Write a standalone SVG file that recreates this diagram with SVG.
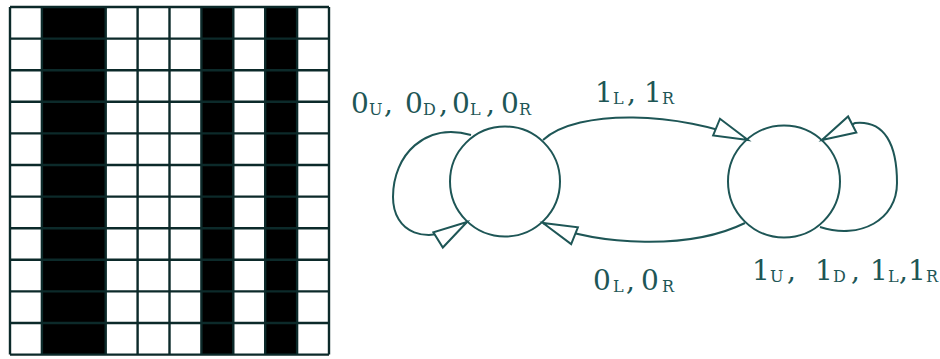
<svg xmlns="http://www.w3.org/2000/svg" width="940" height="359" viewBox="0 0 940 359">
  <defs>
    <style>
      .gl { stroke: #0c2a2a; stroke-width: 2.4; fill: none; }
      .blk { fill: #000; }
      .node { fill: none; stroke: #1e5656; stroke-width: 2; }
      .edge { fill: none; stroke: #1e5656; stroke-width: 2; }
      .t { font-family: "DejaVu Serif", "Liberation Serif", serif; font-size: 28px; fill: #1e5656; }
      .s { font-size: 16px; }
    </style>
    <marker id="arr" markerUnits="userSpaceOnUse" markerWidth="40" markerHeight="24" refX="35" refY="10" orient="auto" overflow="visible">
      <path d="M35,10 L1,1 L1,19 Z" fill="#fff" stroke="#1e5656" stroke-width="2" stroke-linejoin="miter"/>
    </marker>
  </defs>
  <rect width="940" height="359" fill="#fff"/>

  <g id="grid">
    <rect class="blk" x="41.9" y="7" width="63.8" height="347.6"/>
    <rect class="blk" x="201.4" y="7" width="31.9" height="347.6"/>
    <rect class="blk" x="265.2" y="7" width="31.9" height="347.6"/>
    <g class="gl">
      <path d="M10,7 H329 M10,38.6 H329 M10,70.2 H329 M10,101.8 H329 M10,133.4 H329 M10,165 H329 M10,196.6 H329 M10,228.2 H329 M10,259.8 H329 M10,291.4 H329 M10,323 H329 M10,354.6 H329"/>
      <path d="M10,7 V354.6 M41.9,7 V354.6 M105.7,7 V354.6 M137.6,7 V354.6 M169.5,7 V354.6 M201.4,7 V354.6 M233.3,7 V354.6 M265.2,7 V354.6 M297.1,7 V354.6 M329,7 V354.6"/>
    </g>
  </g>

  <g id="connectors">
    <path class="edge" d="M543,140 C578,108 680,112 748,140" marker-end="url(#arr)"/>
    <path class="edge" d="M745,223 C690,250 600,246 543,223" marker-end="url(#arr)"/>
    <path class="edge" d="M471,135 C425,122 393,155 393,197 C393,232 425,248 467,222" marker-end="url(#arr)"/>
    <path class="edge" d="M820,227 C860,240 897,220 897,183 C897,145 885,120 855,123 L822,140" marker-end="url(#arr)"/>
  </g>

  <g id="state0">
    <circle class="node" cx="505" cy="181.5" r="55"/>
  </g>
  <g id="state1">
    <circle class="node" cx="784" cy="181.5" r="56"/>
  </g>

  <g id="labels">
    <text class="t"><tspan x="351" y="113">0</tspan><tspan class="s" x="369" y="115">U</tspan><tspan x="384" y="113">,</tspan><tspan x="405" y="113">0</tspan><tspan class="s" x="423" y="115">D</tspan><tspan x="439" y="113">,</tspan><tspan x="452" y="113">0</tspan><tspan class="s" x="470" y="115">L</tspan><tspan x="486" y="113">,</tspan><tspan x="501" y="113">0</tspan><tspan class="s" x="519" y="115">R</tspan></text>
    <text class="t"><tspan x="595" y="102">1</tspan><tspan class="s" x="613" y="104">L</tspan><tspan x="627" y="102">,</tspan><tspan x="644" y="102">1</tspan><tspan class="s" x="662" y="104">R</tspan></text>
    <text class="t"><tspan x="593" y="290">0</tspan><tspan class="s" x="613" y="292">L</tspan><tspan x="626" y="290">,</tspan><tspan x="641" y="290">0</tspan><tspan class="s" x="662" y="292">R</tspan></text>
    <text class="t"><tspan x="752" y="280">1</tspan><tspan class="s" x="770" y="282">U</tspan><tspan x="787" y="280">,</tspan><tspan x="815" y="280">1</tspan><tspan class="s" x="833" y="282">D</tspan><tspan x="851" y="280">,</tspan><tspan x="870" y="280">1</tspan><tspan class="s" x="888" y="282">L</tspan><tspan x="899" y="280">,</tspan><tspan x="908" y="280">1</tspan><tspan class="s" x="926" y="282">R</tspan></text>
  </g>
</svg>
